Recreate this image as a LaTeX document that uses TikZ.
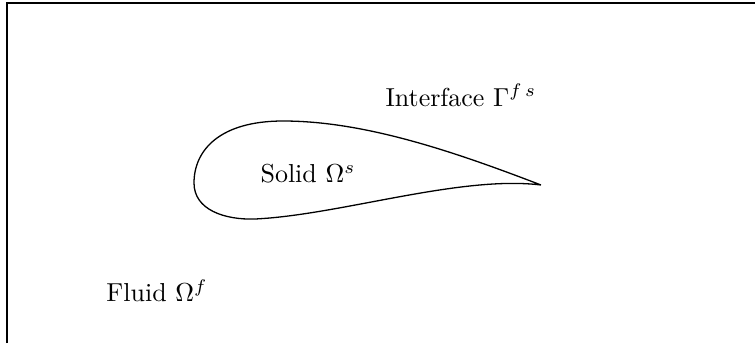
\documentclass[tikz,border=0pt]{standalone}
\begin{document}
\begin{tikzpicture}[x=0.385pt,y=-0.385pt,
  lbl/.style={inner sep=0pt, font=\normalsize}]
\useasboundingbox (0,0) rectangle (755,343);
% frame (clipped rectangle)
\coordinate (fl) at (7,343);
\coordinate (fc) at (7,3);
\coordinate (fr) at (755,3);
\draw[line width=0.5pt] (fl) -- (fc) -- (fr);
% airfoil
\coordinate (te) at (541,185);
\coordinate (top) at (283,121);
\coordinate (le) at (194,183);
\coordinate (bot) at (255,219);
\draw[line width=0.5pt] (te) .. controls (455,152) and (365,121) .. (top)
  .. controls (220,121) and (194,150) .. (le)
  .. controls (194,210) and (225,220) .. (bot)
  .. controls (340,215) and (460,175) .. (te);
\node[lbl, anchor=base west] (iface) at (385,106) {Interface $\Gamma^{f\,s}$};
\node[lbl] (solid) at (308,174) {Solid $\Omega^{s}$};
\node[lbl] (fluid) at (157,291) {Fluid $\Omega^{f}$};
\end{tikzpicture}
\end{document}
